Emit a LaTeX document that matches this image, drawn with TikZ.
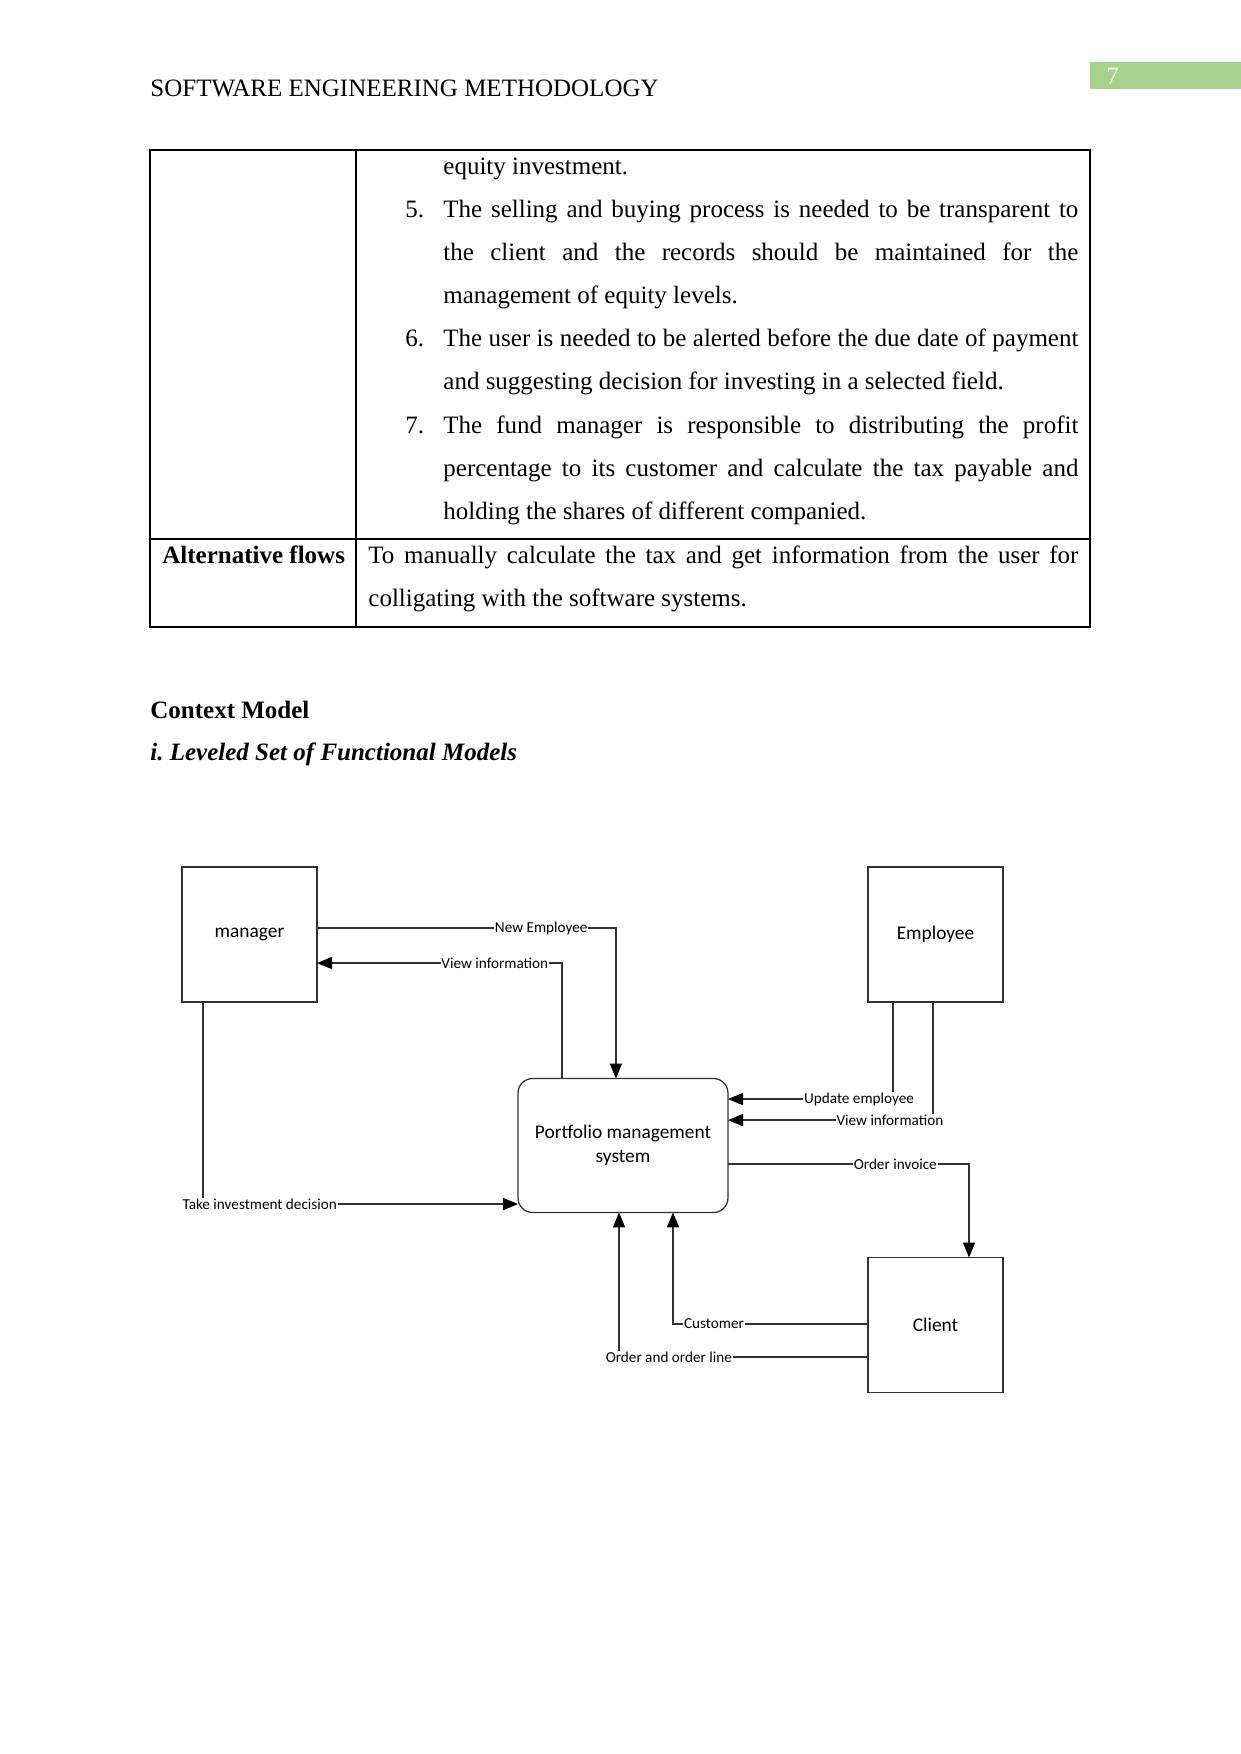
\documentclass[tikz,border=0pt]{standalone}
\usepackage{fontspec}
\setmainfont{Liberation Serif}
\newfontfamily\labelfont{Carlito}
\usetikzlibrary{arrows.meta}
\definecolor{pagegreen}{RGB}{168,208,141}
\definecolor{linegray}{RGB}{50,50,50}
\frenchspacing
\begin{document}
\begin{tikzpicture}[x=0.48pt,y=-0.48pt,
  body/.style={anchor=base west, inner sep=0pt, font=\fontsize{12}{14}\selectfont},
  ent/.style={draw=linegray, line width=0.6pt, minimum width=64.8pt, minimum height=64.8pt, inner sep=0pt, outer sep=0pt, font=\labelfont\fontsize{9.3}{11.5}\selectfont},
  proc/.style={draw=linegray, line width=0.6pt, rounded corners=7pt, minimum width=100.8pt, minimum height=64.3pt, inner sep=0pt, outer sep=0pt, align=center, font=\labelfont\fontsize{9.3}{11.5}\selectfont},
  flow/.style={draw=linegray, line width=0.6pt, -{Triangle[length=7.2pt,width=5.8pt,color=black,fill=black]}},
  lbl/.style={fill=white, inner sep=0.4pt, font=\labelfont\fontsize{7.3}{8.5}\selectfont},
  rule/.style={line width=0.5pt}
]
\useasboundingbox (0,0) rectangle (1241,1754);
\fill[white] (0,0) rectangle (1241,1754);

% header
\node[body] (hdr) at (150,96) {SOFTWARE ENGINEERING METHODOLOGY};
\fill[pagegreen] (1090,62) rectangle (1241,89);
\node[body, text=white!85!pagegreen] (pg) at (1106,84) {7};

% table
\draw[rule] (150,150) rectangle (1090,627);
\draw[rule] (356,150) -- (356,627);
\draw[rule] (150,539) -- (1090,539);

\node[body] (l1) at (443,174) {equity investment.};
\node[body] (n5) at (405,217) {5.};
\node[body] (l2) at (443,217) {\makebox[304.8pt][s]{The selling and buying process is needed to be transparent to}};
\node[body] (l3) at (443,260) {\makebox[304.8pt][s]{the client and the records should be maintained for the}};
\node[body] (l4) at (443,303) {management of equity levels.};
\node[body] (n6) at (405,346) {6.};
\node[body] (l5) at (443,346) {\makebox[304.8pt][s]{The user is needed to be alerted before the due date of payment}};
\node[body] (l6) at (443,389) {and suggesting decision for investing in a selected field.};
\node[body] (n7) at (405,433) {7.};
\node[body] (l7) at (443,433) {\makebox[304.8pt][s]{The fund manager is responsible to distributing the profit}};
\node[body] (l8) at (443,476) {\makebox[304.8pt][s]{percentage to its customer and calculate the tax payable and}};
\node[body] (l9) at (443,519) {holding the shares of different companied.};
\node[body, font=\fontsize{12}{14}\selectfont\bfseries] (alt) at (162,563) {Alternative flows};
\node[body] (a1) at (368,563) {\makebox[340.8pt][s]{To manually calculate the tax and get information from the user for}};
\node[body] (a2) at (368,606) {colligating with the software systems.};

% headings
\node[body, font=\fontsize{12}{14}\selectfont\bfseries] (ctx) at (150,718) {Context Model};
\node[body, font=\fontsize{12}{14}\selectfont\bfseries\itshape] (lvl) at (150,760) {i. Leveled Set of Functional Models};

% diagram
\node[ent] (mgr) at (249.5,934.5) {manager};
\node[ent] (emp) at (935.5,934.5) {Employee};
\node[ent] (cli) at (935.5,1325) {Client};
\node[proc] (pms) at (623,1145.5) {Portfolio management\\system};

\draw[flow] ([yshift=3.1pt]mgr.east) -| node[lbl, pos=0.375] (lne) {New Employee} ([xshift=-3.4pt]pms.north);
\draw[flow] ([xshift=-29.3pt]pms.north) |- node[lbl, pos=0.637] (lvm) {View information} ([yshift=-13.7pt]mgr.east);
\draw[flow] ([xshift=-22.3pt]mgr.south) |- node[lbl, pos=0.59] (lti) {Take investment decision} ([yshift=-28.1pt]pms.west);
\draw[flow] ([xshift=-20.4pt]emp.south) |- node[lbl, pos=0.603] (lue) {Update employee} ([yshift=22.3pt]pms.east);
\draw[flow] ([xshift=-1.2pt]emp.south) |- node[lbl, pos=0.605] (lve) {View information} ([yshift=12.2pt]pms.east);
\draw[flow] ([yshift=-8.9pt]pms.east) -| node[lbl, pos=0.347] (loi) {Order invoice} ([xshift=16.1pt]cli.north);
\draw[flow] ([yshift=0.5pt]cli.west) -| node[lbl, pos=0.395] (lcu) {Customer} ([xshift=24pt]pms.south);
\draw[flow] ([yshift=-15.4pt]cli.west) -| node[lbl, pos=0.40] (lol) {Order and order line} ([xshift=-1.9pt]pms.south);
\end{tikzpicture}
\end{document}
